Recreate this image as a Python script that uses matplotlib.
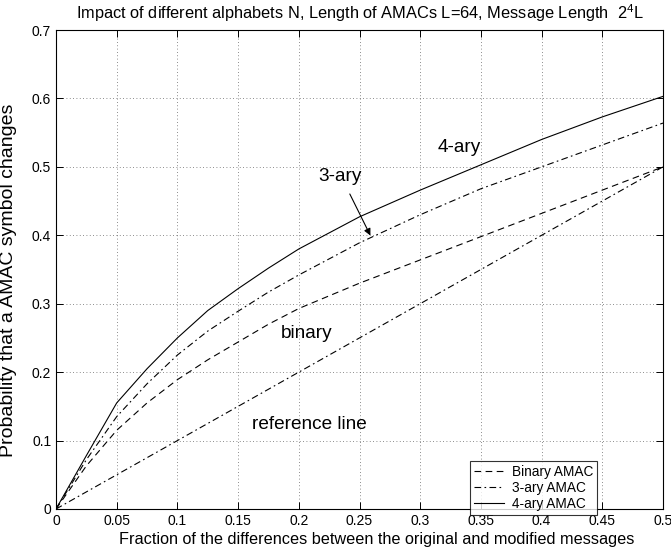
import matplotlib
matplotlib.use("Agg")
import matplotlib.pyplot as plt
import numpy as np

plt.rcParams['font.family'] = ['Liberation Sans', 'DejaVu Sans']
plt.rcParams['mathtext.fontset'] = 'custom'
plt.rcParams['mathtext.rm'] = 'Liberation Sans'

# values
frac = [0, 0.025, 0.05, 0.075, 0.1, 0.125, 0.15, 0.175, 0.2, 0.25, 0.3, 0.35, 0.4, 0.45, 0.5]
binary = [0, 0.063, 0.115, 0.155, 0.189, 0.218, 0.244, 0.270, 0.293, 0.330, 0.364, 0.398, 0.432, 0.466, 0.500]
ary3 = [0, 0.072, 0.135, 0.183, 0.225, 0.260, 0.289, 0.317, 0.342, 0.389, 0.430, 0.468, 0.500, 0.532, 0.564]
ary4 = [0, 0.078, 0.155, 0.205, 0.250, 0.290, 0.322, 0.352, 0.380, 0.427, 0.466, 0.503, 0.540, 0.573, 0.603]
ref_x = [0, 0.5]
ref_y = [0, 0.5]

xticks = [0, 0.05, 0.1, 0.15, 0.2, 0.25, 0.3, 0.35, 0.4, 0.45, 0.5]
xticklabels = ['0', '0.05', '0.1', '0.15', '0.2', '0.25', '0.3', '0.35', '0.4', '0.45', '0.5']
yticks = [0, 0.1, 0.2, 0.3, 0.4, 0.5, 0.6, 0.7]
yticklabels = ['0', '0.1', '0.2', '0.3', '0.4', '0.5', '0.6', '0.7']

fig = plt.figure(figsize=(6.71, 5.56), dpi=100)
ax = fig.add_axes([56/671, 47/556, 607/671, 479/556])

dashdot = (0, (6, 3, 1.5, 3))
ax.plot(frac, binary, color='k', lw=0.8, linestyle=(0, (6, 4)), label='Binary AMAC')
ax.plot(frac, ary3, color='k', lw=0.8, linestyle=dashdot, label='3-ary AMAC')
ax.plot(frac, ary4, color='k', lw=0.8, linestyle='-', label='4-ary AMAC')
ax.plot(ref_x, ref_y, color='k', lw=0.8, linestyle=dashdot)

ax.set_xlim(0, 0.5)
ax.set_ylim(0, 0.7)
ax.set_xticks(xticks)
ax.set_xticklabels(xticklabels)
ax.set_yticks(yticks)
ax.set_yticklabels(yticklabels)
ax.tick_params(direction='in', length=5, width=0.7, top=True, right=True, labelsize=10)
ax.grid(True, linestyle=(0, (1, 3)), color='k', lw=0.6, alpha=0.6)
for s in ax.spines.values():
    s.set_linewidth(0.8)

ax.text(0.332, 0.528, '4-ary', fontsize=13.7, ha='center', va='center')
ax.text(0.234, 0.486, '3-ary', fontsize=13.7, ha='center', va='center')
ax.annotate('', xy=(0.260, 0.396), xytext=(0.241, 0.464),
            arrowprops=dict(arrowstyle='-|>', color='k', lw=0.8, mutation_scale=10))
ax.text(0.2065, 0.257, 'binary', fontsize=13.7, ha='center', va='center')
ax.text(0.209, 0.124, 'reference line', fontsize=13.7, ha='center', va='center')

leg = ax.legend(loc='lower right', bbox_to_anchor=(604/671, 34/556), bbox_transform=fig.transFigure,
                fontsize=9.8, frameon=True, fancybox=False, edgecolor='k',
                handlelength=2.2, borderpad=0.3, labelspacing=0.15, handletextpad=0.6)
leg.get_frame().set_linewidth(0.8)

ax.set_title(r'Impact of different alphabets N, Length of AMACs L=64, Message Length  $2^4$L',
             fontsize=11.75, pad=8)
ax.set_xlabel('Fraction of the differences between the original and modified messages', fontsize=11.7)
ax.xaxis.set_label_coords(0.529, -0.048)
ax.set_ylabel('Probability that a AMAC symbol changes', fontsize=14)
ax.yaxis.set_label_coords(-0.065, 0.478)

fig.savefig('out.png', dpi=100)
